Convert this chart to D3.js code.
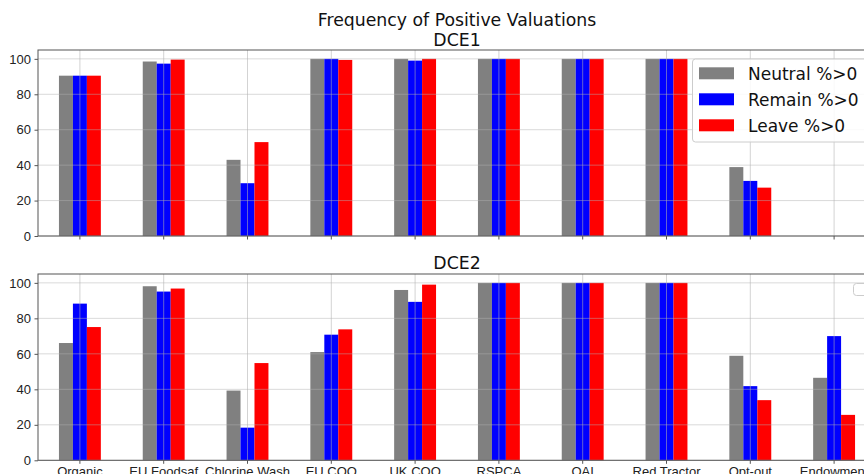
<!DOCTYPE html>
<meta charset="utf-8">
<style>
  html, body { margin: 0; background: #fff; }
  svg { display: block; font-family: "DejaVu Sans", sans-serif; }
  .tick text { fill: #222; }
</style>
<body>
<script src="https://d3js.org/d3.v7.min.js"></script>
<script>
// categories shared by both panels
var categories = ["Organic", "EU Foodsaf", "Chlorine Wash", "EU COO", "UK COO",
                  "RSPCA", "OAI", "Red Tractor", "Opt-out", "Endowment"];
var seriesNames = ["Neutral %>0", "Remain %>0", "Leave %>0"];
var seriesColors = ["#808080", "#0000ff", "#ff0000"];
var yTicks = [0, 20, 40, 60, 80, 100];

// DCE1 values
var dce1Neutral = [90.5, 98.5, 43, 100, 100, 100, 100, 100, 38.9, 0];
var dce1Remain  = [90.5, 97.3, 29.8, 100, 99, 100, 100, 100, 31.1, 0];
var dce1Leave   = [90.5, 99.6, 53, 99.4, 100, 100, 100, 100, 27.3, 0];

// DCE2 values
var dce2Neutral = [66.1, 98.1, 39.3, 61, 96, 100, 100, 100, 58.9, 46.5];
var dce2Remain  = [88.3, 95.1, 18.4, 70.8, 89.3, 100, 100, 100, 41.8, 70];
var dce2Leave   = [75.1, 96.8, 54.8, 73.8, 99, 100, 100, 100, 33.9, 25.6];

var W = 864, H = 474;
var left = 38, right = 876;

var svg = d3.select("body").append("svg")
  .attr("width", W).attr("height", H);

var x0 = d3.scaleBand()
  .domain(categories)
  .range([left, right])
  .paddingInner(0.5)
  .paddingOuter(0.25);

var x1 = d3.scaleBand()
  .domain(seriesNames)
  .range([0, x0.bandwidth()]);

function panel(top, bottom, series, showLabels) {
  var y = d3.scaleLinear().domain([0, 105]).range([bottom, top]);
  var g = svg.append("g");

  // bars
  categories.forEach(function (c, i) {
    series.forEach(function (vals, s) {
      g.append("rect")
        .attr("x", x0(c) + x1(seriesNames[s]))
        .attr("width", x1.bandwidth())
        .attr("y", y(vals[i]))
        .attr("height", y(0) - y(vals[i]))
        .attr("fill", seriesColors[s]);
    });
  });

  // grid on top of bars
  g.selectAll(".hg").data(yTicks).enter().append("line")
    .attr("x1", left).attr("x2", right)
    .attr("y1", function (d) { return y(d); })
    .attr("y2", function (d) { return y(d); })
    .attr("stroke", "#b0b0b0").attr("stroke-opacity", 0.6).attr("stroke-width", 0.8);
  g.selectAll(".vg").data(categories).enter().append("line")
    .attr("x1", function (d) { return x0(d) + x0.bandwidth() / 2; })
    .attr("x2", function (d) { return x0(d) + x0.bandwidth() / 2; })
    .attr("y1", top).attr("y2", bottom)
    .attr("stroke", "#b0b0b0").attr("stroke-opacity", 0.7).attr("stroke-width", 0.8);

  // y axis
  var ya = g.append("g")
    .attr("transform", "translate(" + left + ",0)")
    .call(d3.axisLeft(y).tickValues(yTicks).tickSize(3.5).tickPadding(3.5));
  ya.selectAll("text").style("font-size", "13px");
  ya.selectAll("line").attr("stroke", "#555");
  ya.select(".domain").remove();

  // x axis
  var xa = g.append("g")
    .attr("transform", "translate(0," + bottom + ")")
    .call(d3.axisBottom(x0).tickSize(3.5).tickPadding(2.5));
  xa.selectAll("line").attr("stroke", "#555");
  xa.select(".domain").remove();
  xa.selectAll("text").style("font-size", "13px");
  if (!showLabels) xa.selectAll("text").remove();

  // frame
  g.append("rect")
    .attr("x", left).attr("y", top)
    .attr("width", right - left).attr("height", bottom - top)
    .attr("fill", "none").attr("stroke", "#555").attr("stroke-width", 1);
  return y;
}

panel(50, 236, [dce1Neutral, dce1Remain, dce1Leave], false);
panel(274, 460.3, [dce2Neutral, dce2Remain, dce2Leave], true);

var cx = (left + right) / 2;
svg.append("text").attr("x", cx).attr("y", 26)
  .attr("text-anchor", "middle").style("font-size", "17.3px").attr("fill", "#111")
  .text("Frequency of Positive Valuations");
svg.append("text").attr("x", cx).attr("y", 46)
  .attr("text-anchor", "middle").style("font-size", "17.3px").attr("fill", "#111")
  .text("DCE1");
svg.append("text").attr("x", cx).attr("y", 269)
  .attr("text-anchor", "middle").style("font-size", "17.3px").attr("fill", "#111")
  .text("DCE2");

// legend (top panel)
var lg = svg.append("g");
lg.append("rect")
  .attr("x", 692.5).attr("y", 59).attr("width", 200).attr("height", 83)
  .attr("rx", 3).attr("fill", "#fff").attr("fill-opacity", 0.85)
  .attr("stroke", "#ccc");
seriesNames.forEach(function (n, i) {
  var yy = 67.3 + i * 26;
  lg.append("rect").attr("x", 699).attr("y", yy)
    .attr("width", 35).attr("height", 12).attr("fill", seriesColors[i]);
  lg.append("text").attr("x", 748).attr("y", yy + 12.5)
    .style("font-size", "17px").attr("fill", "#111").text(n);
});

// empty legend box (bottom panel)
svg.append("rect")
  .attr("x", 853.5).attr("y", 283.5).attr("width", 30).attr("height", 12)
  .attr("rx", 3).attr("fill", "#fff").attr("fill-opacity", 0.85)
  .attr("stroke", "#ccc");
</script>
</body>
